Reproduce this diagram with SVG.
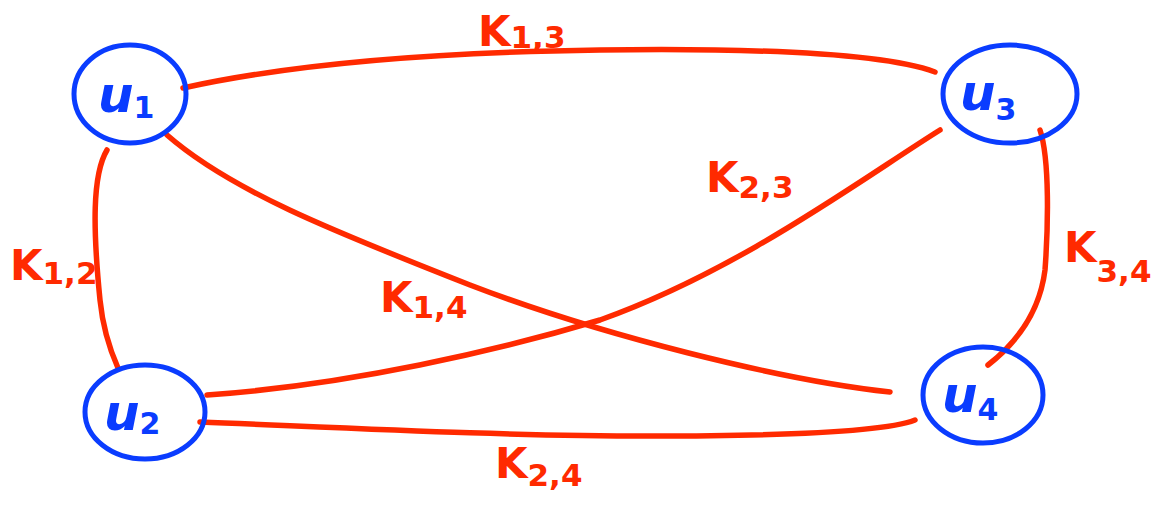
<svg xmlns="http://www.w3.org/2000/svg" width="1155" height="506" viewBox="0 0 1155 506">
<style>
.node{fill:none;stroke:#0a3cff;stroke-width:5;stroke-linecap:round}
.nl{fill:#0a3cff;font-family:"DejaVu Sans",sans-serif;font-style:italic;font-weight:bold;font-size:50px}
.ns{font-size:30px;font-style:normal}
.edge{fill:none;stroke:#ff2a00;stroke-width:5.5;stroke-linecap:round;stroke-linejoin:round}
.el{fill:#ff2a00;font-family:"DejaVu Sans",sans-serif;font-weight:bold;font-size:42px}
.es{font-size:31px}
</style>
<rect width="1155" height="506" fill="#fff"/>
<g id="connectors">
<path class="edge" d="M183,88 C300,62 450,52 600,50 C750,48 880,52 935,72"/>
<path class="edge" d="M107,150 C92,175 93,230 100,300 C103,330 110,350 118,368"/>
<path class="edge" d="M167,135 C230,190 330,230 470,285 C600,335 780,380 890,392"/>
<path class="edge" d="M207,395 C350,385 500,350 600,320 C740,270 860,180 940,130"/>
<path class="edge" d="M1040,130 C1050,160 1048,230 1045,270 C1040,310 1020,340 988,365"/>
<path class="edge" d="M200,422 C350,428 500,436 650,436 C800,436 890,430 915,420"/>
</g>
<g id="labels">
<text class="el" x="478" y="46">K<tspan class="es" dy="2">1,3</tspan></text>
<text class="el" x="706" y="192">K<tspan class="es" dy="6">2,3</tspan></text>
<text class="el" x="10" y="280">K<tspan class="es" dy="4">1,2</tspan></text>
<text class="el" x="1064" y="262">K<tspan class="es" dy="20">3,4</tspan></text>
<text class="el" x="380" y="312">K<tspan class="es" dy="6">1,4</tspan></text>
<text class="el" x="495" y="478">K<tspan class="es" dy="8">2,4</tspan></text>
</g>
<g id="u1">
<ellipse class="node" cx="130" cy="94" rx="56" ry="49"/>
<text class="nl" x="98" y="112">u<tspan class="ns" dy="6">1</tspan></text>
</g>
<g id="u3">
<ellipse class="node" cx="1010" cy="94" rx="67" ry="49"/>
<text class="nl" x="960" y="110">u<tspan class="ns" dy="10">3</tspan></text>
</g>
<g id="u2">
<ellipse class="node" cx="145" cy="412" rx="60" ry="47"/>
<text class="nl" x="104" y="430">u<tspan class="ns" dy="4">2</tspan></text>
</g>
<g id="u4">
<ellipse class="node" cx="983" cy="395" rx="60" ry="48"/>
<text class="nl" x="942" y="412">u<tspan class="ns" dy="8">4</tspan></text>
</g>
</svg>
